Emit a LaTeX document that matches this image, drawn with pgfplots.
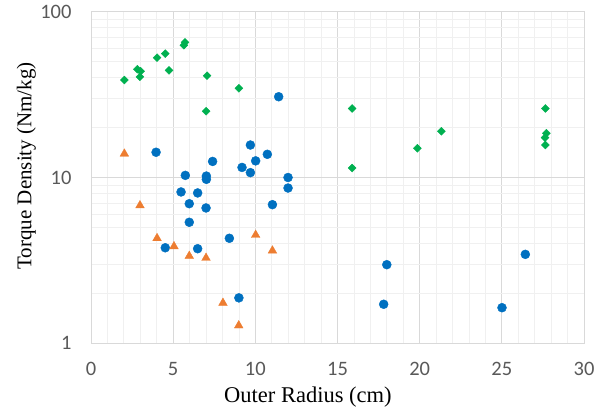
\documentclass[border=0pt]{standalone}
\usepackage{pgfplots}
\pgfplotsset{compat=1.18}
\usepackage{fontspec}
\setmainfont{Liberation Serif}
\newfontfamily\tickfont{Carlito}
\definecolor{tickgray}{RGB}{89,89,89}
\definecolor{majgrid}{RGB}{217,217,217}
\definecolor{mingrid}{RGB}{240,240,240}
\definecolor{xlblue}{RGB}{0,112,192}
\definecolor{xlorange}{RGB}{237,125,49}
\definecolor{xlgreen}{RGB}{0,176,80}

\begin{document}
\begin{tikzpicture}
\useasboundingbox (0,0) rectangle (604bp,412bp);
\begin{axis}[
	at={(91bp,68.7bp)}, anchor=south west,
	scale only axis,
	width=493bp, height=331.6bp,
	ymode=log,
	xmin=0, xmax=30, ymin=1, ymax=100,
	xtick={0,5,...,30},
	minor xtick={1,2,3,4,6,7,8,9,11,12,13,14,16,17,18,19,21,22,23,24,26,27,28,29},
	ytick={1,10,100}, yticklabels={1,10,100},
	minor ytick={2,3,4,5,6,7,8,9,20,30,40,50,60,70,80,90},
	grid=both,
	major grid style={draw=majgrid, line width=0.8pt},
	minor grid style={draw=mingrid, line width=0.8pt},
	axis line style={draw=majgrid, line width=0.8pt},
	major tick length=0pt, minor tick length=0pt,
	/pgf/number format/assume math mode=true,
	tick label style={font=\tickfont\fontsize{20.5bp}{24bp}\selectfont, text=tickgray, inner sep=0pt},
	xticklabel style={anchor=north, yshift=-18.4bp},
	yticklabel style={anchor=east, xshift=-19.3bp},
	xlabel={Outer Radius (cm)},
	ylabel={Torque Density (Nm/kg)},
	xlabel style={font=\fontsize{22.5bp}{26bp}\selectfont, inner sep=0pt, at={(axis description cs:0.440,-0.180)}, anchor=base},
	ylabel style={font=\fontsize{21bp}{25bp}\selectfont, inner sep=0pt, at={(axis description cs:-0.1207,0.535)}, anchor=base},
	clip=false,
]
\addplot[only marks, mark=*, mark size=4.5bp, color=xlblue] coordinates {
	(11.42,30.7) (3.96,14.2) (9.70,15.7) (10.73,13.8) (7.40,12.5)
	(10.02,12.6) (9.19,11.5) (9.70,10.7) (5.74,10.3) (7.02,10.2)
	(7.02,9.75) (11.99,10.0) (11.99,8.64) (5.48,8.18) (6.49,8.07)
	(5.98,6.95) (7.0,6.55) (11.04,6.86) (5.98,5.37) (8.42,4.30)
	(4.52,3.77) (6.49,3.72) (9.0,1.88) (18.0,2.98) (17.81,1.72)
	(25.01,1.64) (26.43,3.44)
};
\addplot[only marks, mark=triangle*, mark size=5bp, color=xlorange] coordinates {
	(2.03,13.9) (2.98,6.78) (4.02,4.30) (5.05,3.84) (5.98,3.36)
	(7.0,3.27) (10.02,4.50) (11.04,3.62) (8.03,1.75) (8.99,1.28)
};
\addplot[only marks, mark=square*, mark size=2.8bp, mark options={rotate=45}, color=xlgreen] coordinates {
	(2.03,38.7) (2.82,45.0) (3.02,43.7) (2.98,40.5) (4.02,52.8)
	(4.52,55.8) (4.75,44.3) (5.72,65.4) (5.65,62.8) (7.06,41.1)
	(7.0,25.1) (9.0,34.5) (15.89,26.1) (15.89,11.4) (19.86,15.0)
	(21.32,19.0) (27.65,26.1) (27.71,18.5) (27.63,17.4) (27.65,15.7)
};
\end{axis}
\end{tikzpicture}
\end{document}
